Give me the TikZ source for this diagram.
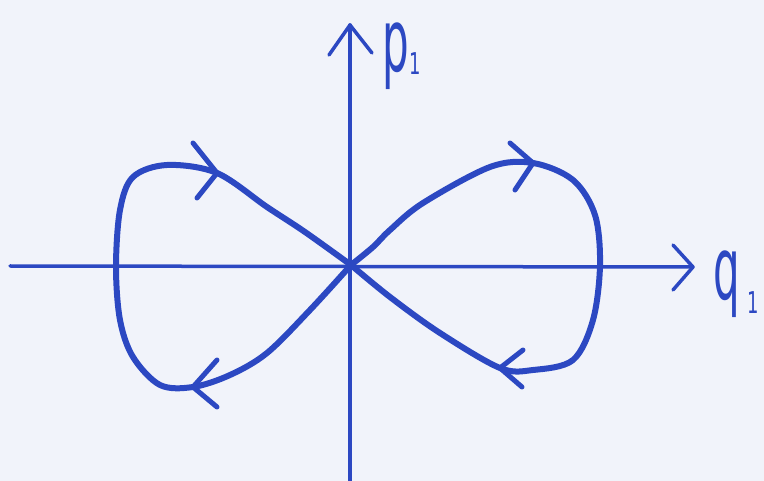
\documentclass[tikz,border=0pt]{standalone}
\usepackage{fontspec}
\setmainfont{DejaVu Sans}
\begin{document}
\begin{tikzpicture}[x=1pt,y=-1pt,
  ink/.style={draw=pen, line cap=round, line join=round},
  axis/.style={ink, line width=3.5pt},
  orbit/.style={ink, line width=6pt},
  vee/.style={ink, line width=5pt},
  lbl/.style={text=pen, inner sep=0pt, anchor=base, font=\fontsize{60}{60}\selectfont, xscale=0.7, yscale=1.45},
  sub/.style={text=pen, inner sep=0pt, font=\fontsize{30}{30}\selectfont, xscale=0.6}]
\definecolor{pen}{HTML}{2C48C2}
\definecolor{paper}{HTML}{F1F3FA}
\fill[paper] (0,0) rectangle (764,481);
\useasboundingbox (0,0) rectangle (764,481);
% axes
\coordinate (xl) at (10,266);
\coordinate (xr) at (693,267);
\coordinate (yb) at (350,481);
\coordinate (yt) at (350,25);
\coordinate (o) at (351,265);
\draw[axis] (xl) -- (xr);
\draw[axis] (673,245) -- (xr) -- (673,290);
\draw[axis] (yb) -- (yt);
\draw[axis] (329,55) -- (yt) -- (372,53);
% labels
\node[lbl] (p) at (396,72) {p};
\node[sub] (p1) at (415,64) {1};
\node[lbl] (q) at (727,300) {q};
\node[sub] (q1) at (753,303) {1};
% left loop
\draw[orbit] plot[smooth, tension=0.55] coordinates {(351,265) (305,232) (267,207) (217,173) (167,165) (133,177) (120,210) (116,267) (120,320) (133,357) (160,385) (193,387) (230,375) (267,353) (310,310) (351,265)};
% right loop
\draw[orbit] plot[smooth, tension=0.55] coordinates {(351,265) (373,247) (390,230) (423,203) (490,167) (533,163) (573,180) (595,215) (600,265) (593,320) (573,360) (533,370) (500,368) (440,333) (390,297) (351,265)};
\fill[pen] (o) circle (5);
% arrow marks
\draw[vee] (193,143) -- (217,173) -- (197,198);
\draw[vee] (217,360) -- (193,387) -- (217,407);
\draw[vee] (510,143) -- (533,163) -- (515,190);
\draw[vee] (523,350) -- (500,368) -- (522,387);
\end{tikzpicture}
\end{document}
